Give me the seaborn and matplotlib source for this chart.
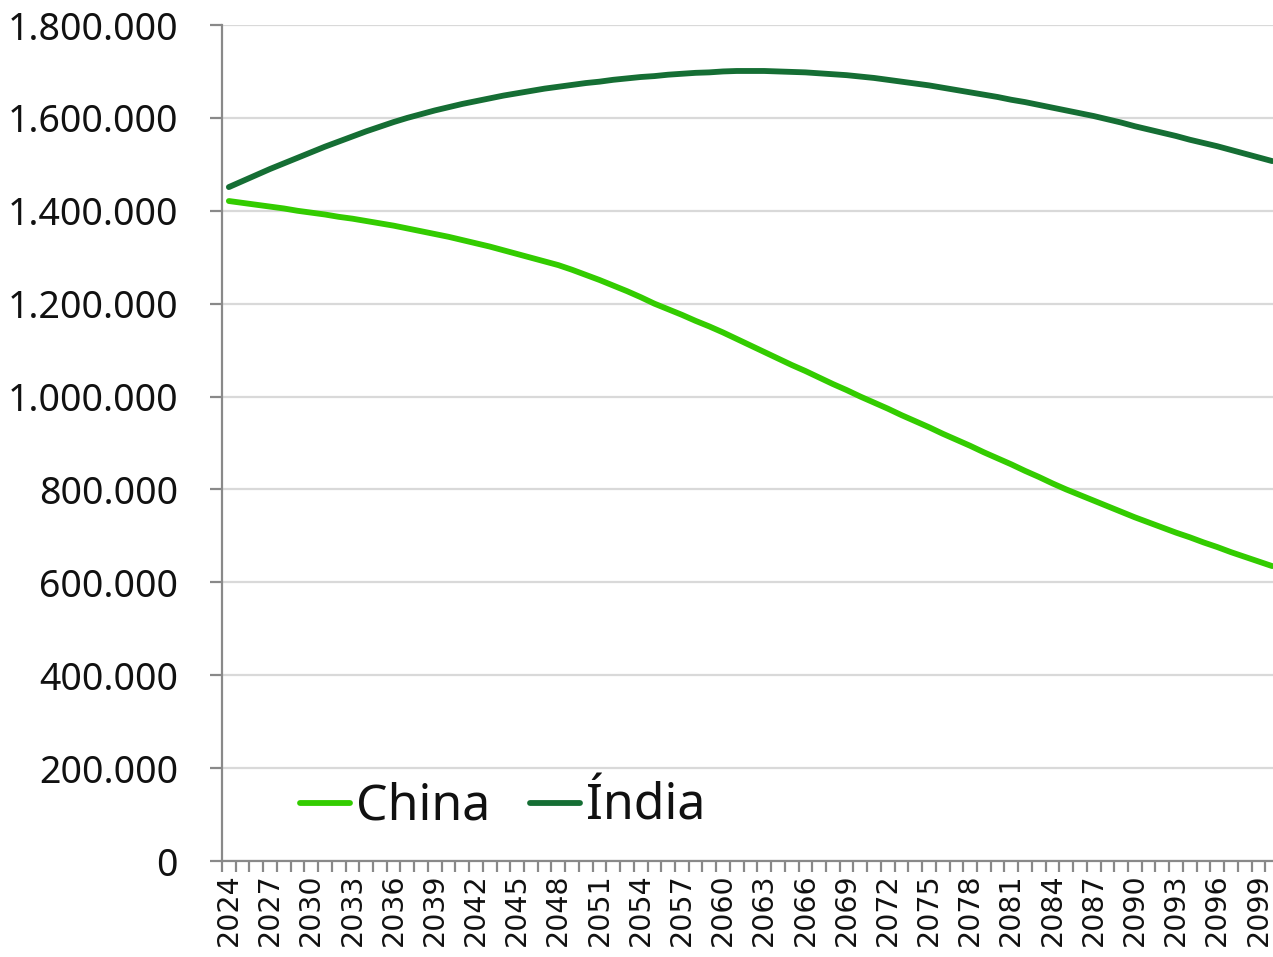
import numpy as np
import pandas as pd
import seaborn as sns
import matplotlib.pyplot as plt
from matplotlib.lines import Line2D
from matplotlib.ticker import FixedLocator, FuncFormatter

# Projected population (thousands), 2024-2100
years = list(range(2024, 2101))

china = [
    1421, 1417, 1413, 1409, 1405, 1400, 1396, 1392, 1387, 1383,
    1378, 1373, 1368, 1362, 1356, 1350, 1344, 1337, 1330, 1323,
    1315, 1307, 1299, 1291, 1283, 1273, 1262, 1251, 1239, 1227,
    1214, 1200, 1188, 1176, 1163, 1151, 1138, 1124, 1110, 1096,
    1082, 1068, 1055, 1041, 1027, 1014, 1000, 987, 974, 960,
    947, 934, 920, 907, 894, 880, 867, 854, 840, 827,
    813, 800, 788, 776, 764, 752, 740, 729, 718, 707,
    697, 686, 676, 665, 655, 645, 635,
]

india = [
    1451, 1464, 1477, 1490, 1502, 1514, 1526, 1538, 1549, 1560,
    1571, 1581, 1591, 1600, 1608, 1616, 1623, 1630, 1636, 1642,
    1648, 1653, 1658, 1663, 1667, 1671, 1675, 1678, 1682, 1685,
    1688, 1690, 1693, 1695, 1697, 1698, 1700, 1701, 1701, 1701,
    1700, 1699, 1698, 1696, 1694, 1692, 1689, 1686, 1682, 1678,
    1674, 1670, 1665, 1660, 1655, 1650, 1645, 1639, 1634, 1628,
    1622, 1616, 1610, 1604, 1597, 1590, 1582, 1575, 1568, 1561,
    1553, 1546, 1539, 1531, 1523, 1515, 1507,
]

series_names = ["China", "Índia"]
series_colors = ["#33CC00", "#156E34"]

y_ticks = [0, 200000, 400000, 600000, 800000, 1000000, 1200000, 1400000, 1600000, 1800000]
x_label_years = list(range(2024, 2100, 3))

df = pd.DataFrame({
    "Ano": years * 2,
    "População": [v * 1000 for v in china] + [v * 1000 for v in india],
    "País": [series_names[0]] * len(years) + [series_names[1]] * len(years),
})

sns.set_theme(style="white")
plt.rcParams["font.family"] = ["DejaVu Sans"]

W, H = 1273, 957
fig = plt.figure(figsize=(W / 100, H / 100), dpi=100)
ax = fig.add_axes([222 / W, 1 - 861 / H, (1279 - 222) / W, (861 - 25) / H])

sns.lineplot(
    data=df, x="Ano", y="População", hue="País",
    palette=dict(zip(series_names, series_colors)),
    linewidth=4.2, ax=ax, legend=False,
    solid_capstyle="round",
)

ax.set_xlim(2023.5, 2100.5)
ax.set_ylim(0, 1800000)
ax.set_xlabel("")
ax.set_ylabel("")

# Horizontal gridlines
ax.yaxis.grid(True, color="#D9D9D9", linewidth=1.6)
ax.xaxis.grid(False)
ax.set_axisbelow(True)

for side in ["top", "right"]:
    ax.spines[side].set_visible(False)
for side in ["left", "bottom"]:
    ax.spines[side].set_color("#898989")
    ax.spines[side].set_linewidth(1.6)

# Y axis
ax.yaxis.set_major_locator(FixedLocator(y_ticks))
ax.yaxis.set_major_formatter(FuncFormatter(lambda v, p: f"{int(v):,}".replace(",", ".")))
ax.tick_params(axis="y", which="major", left=True, direction="out", length=8.6, width=1.6,
               color="#898989", pad=23, labelsize=27, labelcolor="#111111")
for lbl in ax.get_yticklabels():
    lbl.set_family(["Noto Sans", "DejaVu Sans"])

# X axis: ticks between categories, labels every third year
ax.xaxis.set_major_locator(FixedLocator(x_label_years))
ax.xaxis.set_minor_locator(FixedLocator([y - 0.5 for y in years] + [2100.5]))
ax.xaxis.set_major_formatter(FuncFormatter(lambda v, p: f"{int(v)}"))
ax.tick_params(axis="x", which="major", bottom=True, length=0, pad=9, labelsize=20.5,
               labelrotation=90, labelcolor="#111111")
ax.tick_params(axis="x", which="minor", bottom=True, direction="out", length=8, width=1.6,
               color="#898989")

# Legend
handles = [Line2D([0], [0], color=c, linewidth=4.2, solid_capstyle="round")
           for c in series_colors]
leg = ax.legend(
    handles, series_names, loc="center left",
    bbox_to_anchor=((300 - 222) / (1279 - 222), (861 - 807) / (861 - 25)),
    ncol=2, frameon=False, borderpad=0, borderaxespad=0,
    handlelength=1.0, handletextpad=0.12, columnspacing=0.8,
    prop={"family": ["Noto Sans", "DejaVu Sans"], "size": 36},
)
for t in leg.get_texts():
    t.set_color("#111111")

fig.savefig("out.png", dpi=100)
